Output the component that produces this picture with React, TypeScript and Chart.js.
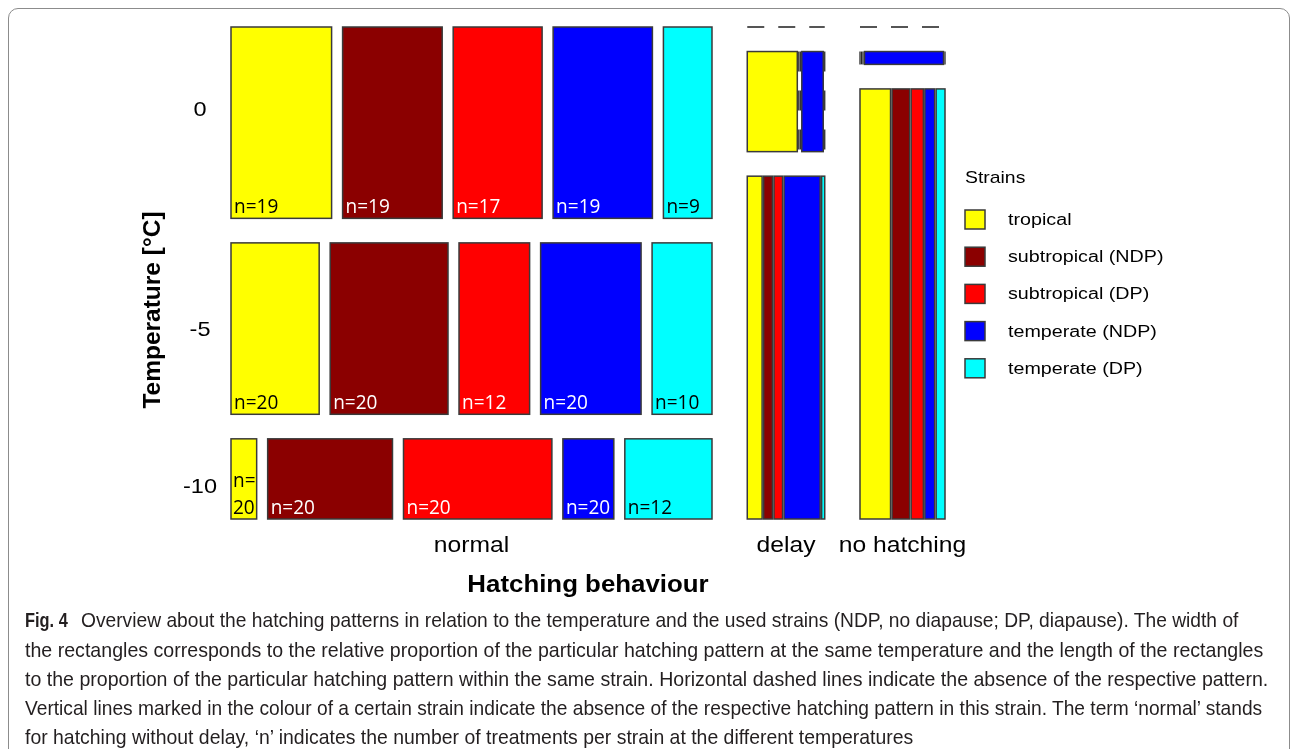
import React, { useEffect, useLayoutEffect, useRef } from "react";
import { Chart, registerables } from "chart.js";

Chart.register(...registerables);

// ---------- data ----------
const behaviours = ["normal", "delay", "no hatching"];
const temperatures = ["0", "-5", "-10"];
const strains = ["tropical", "subtropical (NDP)", "subtropical (DP)", "temperate (NDP)", "temperate (DP)"];
const strainColors = ["#FFFF00", "#8B0000", "#FF0000", "#0000FF", "#00FFFF"];
const strainTextColors = ["#000000", "#FFFFFF", "#FFFFFF", "#FFFFFF", "#000000"];

// share of each hatching behaviour (column widths)
const behaviourShare = [0.7475, 0.1204, 0.1321];

// share of each temperature within a behaviour (row heights)
const normalTempShare = [0.432, 0.387, 0.181];
const delayTempShare = [0, 0.226, 0.774];
const noHatchTempShare = [0, 0.029, 0.971];

// relative strain proportions within each behaviour x temperature cell
const normalStrain0 = [100, 99, 88.4, 98.7, 48.3];
const normalStrainM5 = [88.3, 118, 70.7, 100.6, 60];
const normalStrainM10 = [25.7, 125, 148.6, 51, 87.3];
const delayStrain0 = [0, 0, 0, 0, 0];
const delayStrainM5 = [49, 0, 0, 21, 0];
const delayStrainM10 = [14.4, 8.6, 8.3, 35, 3];
const noHatchStrain0 = [0, 0, 0, 0, 0];
const noHatchStrainM5 = [0, 0, 0, 77.3, 0];
const noHatchStrainM10 = [30, 17.3, 12, 9.6, 8.7];

// number of treatments per strain at each temperature
const nAt0 = [19, 19, 17, 19, 9];
const nAtM5 = [20, 20, 12, 20, 10];
const nAtM10 = [20, 20, 20, 20, 12];

const captionLines = [
  "Overview about the hatching patterns in relation to the temperature and the used strains (NDP, no diapause; DP, diapause). The width of",
  "the rectangles corresponds to the relative proportion of the particular hatching pattern at the same temperature and the length of the rectangles",
  "to the proportion of the particular hatching pattern within the same strain. Horizontal dashed lines indicate the absence of the respective pattern.",
  "Vertical lines marked in the colour of a certain strain indicate the absence of the respective hatching pattern in this strain. The term \u2018normal\u2019 stands",
  "for hatching without delay, \u2018n\u2019 indicates the number of treatments per strain at the different temperatures",
];

// ---------- layout ----------
const tempShares = [normalTempShare, delayTempShare, noHatchTempShare];
const strainShares = [
  [normalStrain0, normalStrainM5, normalStrainM10],
  [delayStrain0, delayStrainM5, delayStrainM10],
  [noHatchStrain0, noHatchStrainM5, noHatchStrainM10],
];
const nCounts = [nAt0, nAtM5, nAtM10];

const GAP_B = 0.0548;
const GAP_T = 0.0554;
const GAP_S = [0.0171, 0.00233, 0.00233];
const X_MAX = 1 + 2 * GAP_B;
const Y_MAX = 1 + 2 * GAP_T;
const TEMP_LABEL_OFFSET = [-15, -1, 6];

const SANS = "'Liberation Sans', Arial, sans-serif";
const SX = 1.12;

function drawText(
  ctx: CanvasRenderingContext2D,
  text: string,
  x: number,
  y: number,
  font: string,
  color: string,
  align: CanvasTextAlign = "left",
  sx = SX,
  rot = 0
) {
  ctx.save();
  ctx.translate(x, y);
  if (rot) ctx.rotate(rot);
  ctx.scale(sx, 1);
  ctx.font = font;
  ctx.fillStyle = color;
  ctx.textAlign = align;
  ctx.textBaseline = "alphabetic";
  ctx.fillText(text, 0, 0);
  ctx.restore();
}

const mosaicPlugin = {
  id: "mosaic",
  afterDraw(chart: any) {
    const { ctx, chartArea } = chart;
    const xs = chart.scales.x;
    const ys = chart.scales.y;
    const px = (v: number) => xs.getPixelForValue(v);
    const py = (v: number) => ys.getPixelForValue(v);
    ctx.save();

    let bx = 0;
    behaviours.forEach((bName, b) => {
      const bw = behaviourShare[b];
      let ty = 0;
      temperatures.forEach((tName, t) => {
        const th = tempShares[b][t];
        const top = py(ty);
        const bottom = py(ty + th);
        if (th === 0) {
          ctx.save();
          ctx.strokeStyle = "#555555";
          ctx.lineWidth = 2;
          ctx.setLineDash([17, 14]);
          ctx.beginPath();
          ctx.moveTo(px(bx), top);
          ctx.lineTo(px(bx + bw), top);
          ctx.stroke();
          ctx.restore();
        } else {
          const weights = strainShares[b][t];
          const total = weights.reduce((a, c) => a + c, 0);
          const gs = GAP_S[b];
          const avail = bw - 4 * gs;
          let cx = bx;
          weights.forEach((wv, i) => {
            const sw = (wv / total) * avail;
            if (sw === 0) {
              ctx.save();
              ctx.strokeStyle = "#2a2a2a";
              ctx.lineWidth = 1.3;
              ctx.setLineDash([20, 19]);
              ctx.beginPath();
              ctx.moveTo(px(cx), top);
              ctx.lineTo(px(cx), bottom);
              ctx.stroke();
              ctx.restore();
              cx += gs;
            } else {
              const l = px(cx);
              const r = px(cx + sw);
              ctx.fillStyle = strainColors[i];
              ctx.fillRect(l, top, r - l, bottom - top);
              ctx.strokeStyle = "#3a3a3a";
              ctx.lineWidth = 1.5;
              ctx.strokeRect(l, top, r - l, bottom - top);
              if (b === 0) {
                const label = "n=" + nCounts[t][i];
                const font = "20px 'Open Sans', sans-serif";
                ctx.font = font;
                const tw = ctx.measureText(label).width * 0.95;
                if (tw > r - l - 4) {
                  drawText(ctx, "n=", l + 2, bottom - 32, font, strainTextColors[i], "left", 0.95);
                  drawText(ctx, String(nCounts[t][i]), l + 2, bottom - 5, font, strainTextColors[i], "left", 0.95);
                } else {
                  drawText(ctx, label, l + 3, bottom - 5, font, strainTextColors[i], "left", 0.95);
                }
              }
              cx += sw + gs;
            }
          });
        }
        ty += th + GAP_T;
      });
      // behaviour label
      drawText(ctx, bName, px(bx + bw / 2), py(Y_MAX) + 33, "22px " + SANS, "#000", "center");
      bx += bw + GAP_B;
    });

    // temperature labels (centred on the "normal" row)
    let ty = 0;
    temperatures.forEach((tName, t) => {
      const th = normalTempShare[t];
      const cy = (py(ty) + py(ty + th)) / 2 + TEMP_LABEL_OFFSET[t];
      drawText(ctx, tName, chartArea.left - 31, cy + 8, "21px " + SANS, "#000", "center");
      ty += th + GAP_T;
    });

    // axis titles
    drawText(ctx, "Temperature [\u00B0C]", chartArea.left - 71, (chartArea.top + chartArea.bottom) / 2 + 37, "bold 24.5px " + SANS, "#000", "center", 1, -Math.PI / 2);
    drawText(ctx, "Hatching behaviour", (chartArea.left + chartArea.right) / 2, chartArea.bottom + 73, "bold 23.5px " + SANS, "#000", "center", 1.1);

    // legend
    const lx = chartArea.right + 20;
    drawText(ctx, "Strains", lx, 183, "17px " + SANS, "#000", "left", 1.14);
    strains.forEach((s, i) => {
      const sy = 210 + i * 37.2;
      ctx.fillStyle = strainColors[i];
      ctx.fillRect(lx, sy, 20, 19);
      ctx.strokeStyle = "#3a3a3a";
      ctx.lineWidth = 1.5;
      ctx.strokeRect(lx, sy, 20, 19);
      drawText(ctx, s, lx + 43, sy + 15, "17.3px " + SANS, "#000", "left", 1.14);
    });
    ctx.restore();
  },
};

const CAPTION_WIDTHS = [1157, 1238, 1243, 1237, 888];
const CAPTION_BASELINES = [627, 657, 686, 715, 744];

function Caption() {
  const refs = useRef<(HTMLSpanElement | null)[]>([]);
  useLayoutEffect(() => {
    refs.current.forEach((el, i) => {
      if (!el) return;
      const w = el.offsetWidth;
      el.style.transform = `scaleX(${CAPTION_WIDTHS[i] / w})`;
    });
  }, []);
  return (
    <>
      <div
        style={{
          position: "absolute",
          left: 25,
          top: CAPTION_BASELINES[0] - 18,
          font: "bold 21px 'Liberation Sans', Arial, sans-serif",
          lineHeight: "21px",
          color: "#231f20",
          whiteSpace: "nowrap",
        }}
      >
        <span style={{ display: "inline-block", transform: "scaleX(0.78)", transformOrigin: "left" }}>Fig. 4</span>
      </div>
      {captionLines.map((line, i) => (
        <div
          key={i}
          style={{
            position: "absolute",
            left: i === 0 ? 81 : 25,
            top: CAPTION_BASELINES[i] - 18,
            font: "21px 'Liberation Sans', Arial, sans-serif",
            lineHeight: "21px",
            color: "#231f20",
            whiteSpace: "nowrap",
          }}
        >
          <span
            ref={(el) => {
              refs.current[i] = el;
            }}
            style={{ display: "inline-block", transformOrigin: "left" }}
          >
            {line}
          </span>
        </div>
      ))}
    </>
  );
}

export default function App() {
  const canvasRef = useRef<HTMLCanvasElement | null>(null);
  useEffect(() => {
    if (!canvasRef.current) return;
    const chart = new Chart(canvasRef.current, {
      type: "scatter",
      data: { datasets: [] },
      options: {
        animation: false,
        responsive: false,
        devicePixelRatio: 1,
        layout: { padding: { left: 231, right: 1293 - 945, top: 27, bottom: 749 - 519 } },
        plugins: { legend: { display: false }, tooltip: { enabled: false } },
        scales: {
          x: { type: "linear", min: 0, max: X_MAX, display: false },
          y: { type: "linear", min: 0, max: Y_MAX, reverse: true, display: false },
        },
      },
      plugins: [mosaicPlugin],
    });
    return () => chart.destroy();
  }, []);

  return (
    <div style={{ position: "absolute", left: 0, top: 0, width: 1293, height: 749, overflow: "hidden", background: "#fff" }}>
      <div
        style={{
          position: "absolute",
          left: 8,
          top: 8,
          width: 1282,
          height: 760,
          border: "1.5px solid #8c8c8c",
          borderRadius: 10,
          boxSizing: "border-box",
        }}
      />
      <canvas ref={canvasRef} width={1293} height={749} style={{ position: "absolute", left: 0, top: 0 }} />
      <Caption />
    </div>
  );
}
